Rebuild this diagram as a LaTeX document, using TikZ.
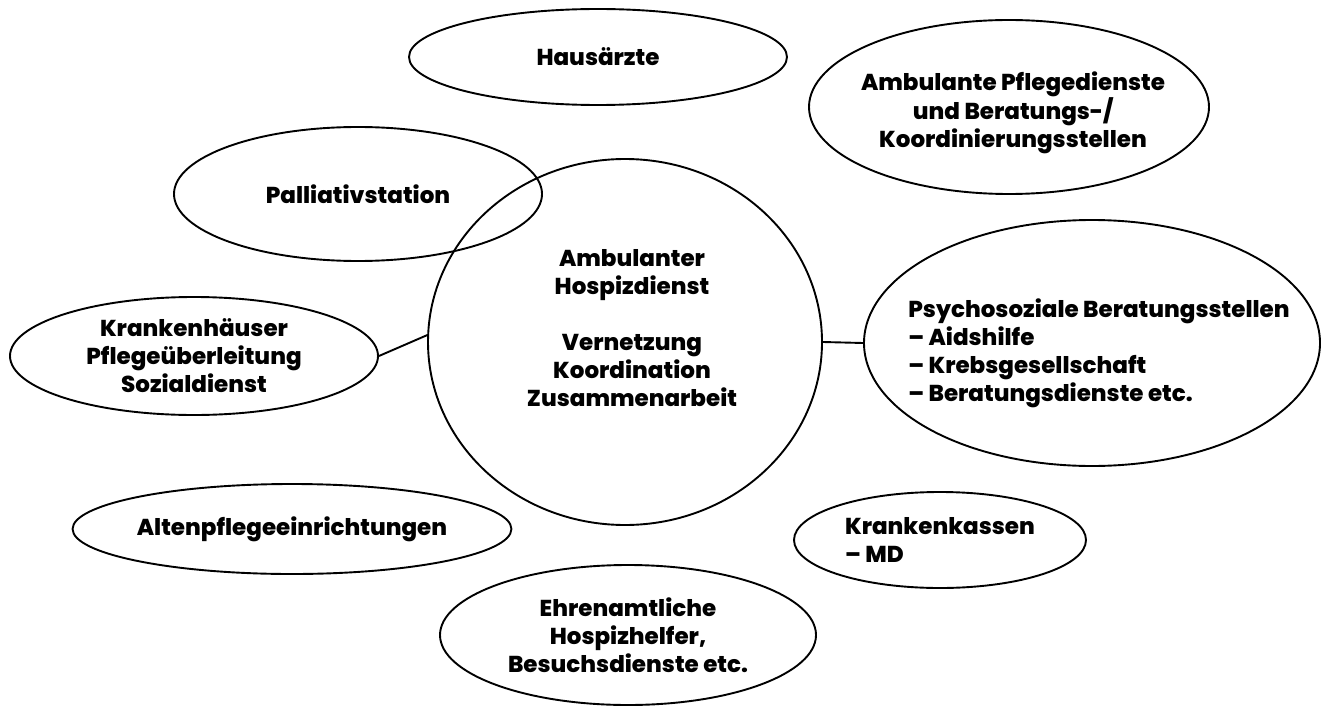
\documentclass[tikz,border=0pt]{standalone}
\usepackage{fontspec}
\setmainfont{Poppins}[BoldFont={* ExtraBold}]
\usetikzlibrary{shapes.geometric}

\begin{document}
\begin{tikzpicture}[x=1pt,y=-1pt,line width=1.9pt,
    font=\fontsize{23}{28}\selectfont\bfseries,
    blob/.style={draw,ellipse,inner sep=0pt,align=center}]
  \useasboundingbox (0,0) rectangle (1327,706);
  % centre
  \node[draw,ellipse,minimum width=394pt,minimum height=366pt,inner sep=0pt] (hospiz) at (625,342) {};
  \node[align=center] (hospiztext) at (632,328)
     {Ambulanter\\Hospizdienst\\[28pt]Vernetzung\\Koordination\\Zusammenarbeit};
  % partners
  \node[blob,minimum width=378pt,minimum height=96pt] (haus) at (598,57) {Hausärzte};
  \node[blob,minimum width=400pt,minimum height=174pt] (ambu) at (1009,107) {};
  \node[align=center] (ambutext) at (1013,113)
     {Ambulante Pflegedienste\\und Beratungs-/\\Koordinierungsstellen};
  \node[blob,minimum width=368pt,minimum height=134pt] (pall) at (358,194) {Palliativstation};
  \node[blob,minimum width=368pt,minimum height=118pt] (kh) at (194,356)
     {Krankenhäuser\\Pflegeüberleitung\\Sozialdienst};
  \node[blob,minimum width=456pt,minimum height=246pt] (psy) at (1092,343) {};
  \node[align=left] (psytext) at (1099,353)
     {Psychosoziale Beratungsstellen\\– Aidshilfe\\– Krebsgesellschaft\\– Beratungsdienste etc.};
  \node[blob,minimum width=384pt,minimum height=90pt] (alten) at (292,529) {Altenpflegeeinrichtungen};
  \node[blob,minimum width=292pt,minimum height=96pt,align=left] (kasse) at (940,540)
     {Krankenkassen\\– MD};
  \node[blob,minimum width=376pt,minimum height=140pt] (ehren) at (628,635)
     {Ehrenamtliche\\Hospizhelfer,\\Besuchsdienste etc.};
  % links
  \draw (kh.east) -- (hospiz.178);
  \draw (hospiz.east) -- (psy.west);
\end{tikzpicture}
\end{document}
